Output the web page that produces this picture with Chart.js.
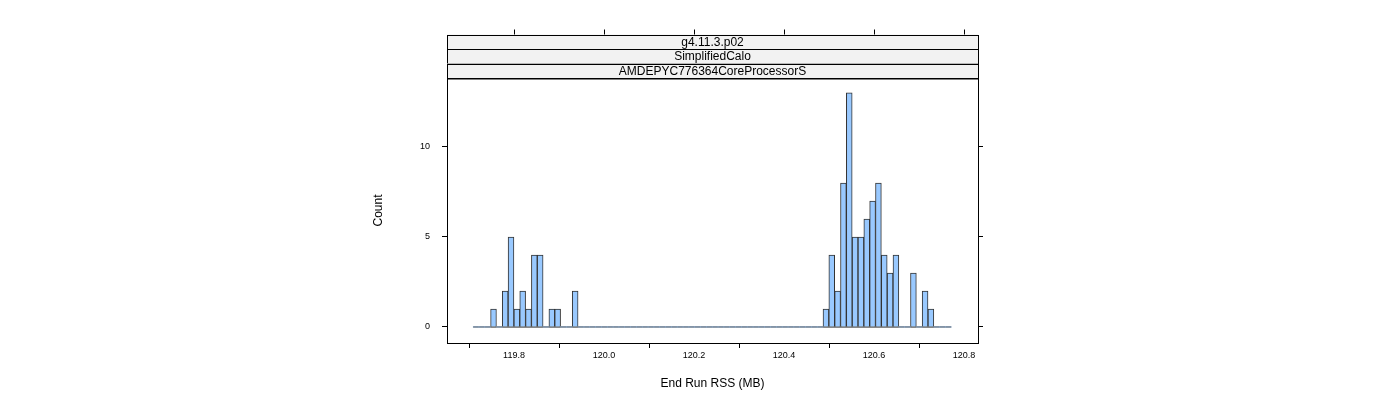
<!DOCTYPE html>
<html><head><meta charset="utf-8">
<script src="https://cdn.jsdelivr.net/npm/chart.js@4"></script>
<style>html,body{margin:0;background:#fff}#c{display:block}</style>
</head><body>
<canvas id="c" width="1400" height="400"></canvas>
<script>
// histogram bins
var binStart = 119.709;
var binWidth = 0.01296;
var counts = [0,0,0,1,0,2,5,1,2,1,4,4,0,1,1,0,0,2,
  0,0,0,0,0,0,0,0,0,0,0,0,0,0,0,0,0,0,0,0,0,0,0,0,0,0,0,0,0,0,0,0,0,0,0,0,0,0,0,0,0,0,
  1,4,2,8,13,5,5,6,7,8,4,3,4,0,0,3,0,2,1,0,0,0];
var xTicks = [119.8, 120.0, 120.2, 120.4, 120.6, 120.8];
var yTicks = [0, 5, 10];
var strips = ['g4.11.3.p02', 'SimplifiedCalo', 'AMDEPYC776364CoreProcessorS'];

var barData = counts.map(function (c, i) { return {x: binStart + (i + 0.5) * binWidth, y: c}; });
var baseline = [{x: binStart, y: 0}, {x: binStart + counts.length * binWidth, y: 0}];
var font = {family: 'Liberation Sans, Arial, sans-serif', size: 9};

var frame = {
  id: 'frame',
  afterDraw: function (chart) {
    var c = chart.ctx, a = chart.chartArea, xs = chart.scales.x;
    c.save();
    c.strokeStyle = '#000'; c.lineWidth = 1;
    c.strokeRect(a.left + 0.5, a.top + 0.5, a.right - a.left, a.bottom - a.top);
    var h = 14.5;
    c.font = '12px Liberation Sans, Arial, sans-serif';
    c.textAlign = 'center'; c.textBaseline = 'middle';
    for (var i = 0; i < strips.length; i++) {
      var y = a.top - h * (strips.length - i);
      c.fillStyle = '#f2f2f2';
      c.fillRect(a.left, y, a.right - a.left, h);
      c.strokeRect(a.left + 0.5, Math.round(y) + 0.5, a.right - a.left, h);
      c.fillStyle = '#000';
      c.fillText(strips[i], (a.left + a.right) / 2, y + h / 2 + 0.5);
    }
    var top = a.top - h * strips.length;
    xTicks.forEach(function (t) {
      var px = Math.round(xs.getPixelForValue(t)) + 0.5;
      c.beginPath(); c.moveTo(px, top); c.lineTo(px, top - 5); c.stroke();
    });
    c.restore();
  }
};

new Chart(document.getElementById('c'), {
  type: 'bar',
  data: {
    datasets: [{
      type: 'line', data: baseline, borderColor: '#000', borderWidth: 1,
      pointRadius: 0, fill: false, order: 2
    }, {
      data: barData,
      backgroundColor: '#99c9ff',
      borderColor: '#333',
      borderWidth: function (ctx) { return ctx.raw && ctx.raw.y > 0 ? 1 : 0; },
      barPercentage: 1, categoryPercentage: 1, grouped: false, order: 1
    }]
  },
  options: {
    responsive: false, animation: false,
    layout: {padding: {left: 367, right: 416, top: 78, bottom: 5}},
    plugins: {legend: {display: false}, tooltip: {enabled: false}},
    scales: {
      x: {
        type: 'linear', min: 119.651, max: 120.831, offset: false,
        afterFit: function (s) { s.height = 52; },
        afterBuildTicks: function (s) { s.ticks = xTicks.map(function (v) { return {value: v}; }); },
        ticks: {color: '#000', font: font, maxRotation: 0, padding: 2, callback: function (v) { return v.toFixed(1); }},
        grid: {drawOnChartArea: false, tickLength: 5, color: '#000'},
        border: {display: false},
        title: {display: true, text: 'End Run RSS (MB)', color: '#000', font: {family: font.family, size: 12}, padding: {top: 10}}
      },
      y: {
        min: -0.89, max: 13.83,
        afterFit: function (s) { s.width = 80; },
        afterBuildTicks: function (s) { s.ticks = yTicks.map(function (v) { return {value: v}; }); },
        ticks: {color: '#000', font: font, padding: 12},
        grid: {drawOnChartArea: false, tickLength: 5, color: '#000'},
        border: {display: false},
        title: {display: true, text: 'Count', color: '#000', font: {family: font.family, size: 12}, padding: {bottom: 4}}
      },
      y2: {
        position: 'right', min: -0.89, max: 13.83,
        afterFit: function (s) { s.width = 6; },
        afterBuildTicks: function (s) { s.ticks = yTicks.map(function (v) { return {value: v}; }); },
        ticks: {display: false},
        grid: {drawOnChartArea: false, tickLength: 5, color: '#000'},
        border: {display: false}
      }
    }
  },
  plugins: [frame]
});
</script>
</body></html>
